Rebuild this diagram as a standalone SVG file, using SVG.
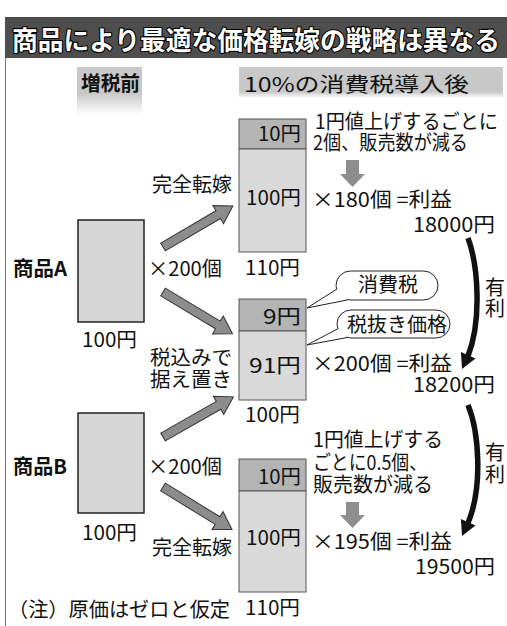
<svg xmlns="http://www.w3.org/2000/svg" xmlns:xlink="http://www.w3.org/1999/xlink" width="507" height="626" viewBox="0 0 507 626">
<style>
text{font-family:"Noto Sans CJK JP","Liberation Sans",sans-serif;font-size:20px;font-weight:400;fill:#111}
.b{font-weight:700}
.e{text-anchor:end}
.m{text-anchor:middle}
.title{font-size:26px;font-weight:700;fill:#fff;stroke:#000;stroke-width:2.2;paint-order:stroke;stroke-linejoin:round}
.pre{fill:#d6d6d6;stroke:#222;stroke-width:1.5}
.tax{fill:#b4b4b4;stroke:#555;stroke-width:1}
.base{fill:#d9d9d9;stroke:#555;stroke-width:1}
.big{fill:#8c8c8c;stroke:#333;stroke-width:1}
.down{fill:#8e8e8e}
.curve{fill:none;stroke:#111;stroke-width:5.5}
.head{fill:#111}
.pill{fill:#fff;stroke:#222;stroke-width:1}
.tl{stroke:#222;stroke-width:1;fill:none}
</style>
<defs>
<linearGradient id="hg1" x1="0" y1="0" x2="0" y2="1">
<stop offset="0" stop-color="#c8c8c8"/>
<stop offset="0.55" stop-color="#c8c8c8"/>
<stop offset="1" stop-color="#c8c8c8" stop-opacity="0"/>
</linearGradient>
<linearGradient id="hg2" x1="0" y1="0" x2="0" y2="1">
<stop offset="0" stop-color="#c8c8c8"/>
<stop offset="0.8" stop-color="#c8c8c8"/>
<stop offset="1" stop-color="#c8c8c8" stop-opacity="0"/>
</linearGradient>
<path id="bigArrow" d="M0,-4.5 L64,-4.5 L64,-10.5 L81,0 L64,10.5 L64,4.5 L0,4.5 Z"/>
</defs>
<rect width="507" height="626" fill="#fff"/>
<g id="title">
<rect x="5" y="17" width="502" height="41" fill="#4e4e4e"/>
<text class="title" x="12" y="50" textLength="488" lengthAdjust="spacingAndGlyphs">商品により最適な価格転嫁の戦略は異なる</text>
</g>
<line x1="5.5" y1="58" x2="5.5" y2="626" stroke="#777" stroke-width="1"/>
<g id="header-before">
<rect x="77" y="67" width="65" height="48" fill="url(#hg1)"/>
<text class="b" x="81" y="91" textLength="59" lengthAdjust="spacingAndGlyphs">増税前</text>
</g>
<g id="header-after">
<rect x="239" y="67" width="264" height="31" fill="url(#hg2)"/>
<text x="244" y="92" textLength="225" lengthAdjust="spacingAndGlyphs">10%の消費税導入後</text>
</g>
<g id="productA">
<text class="b" x="13" y="276" textLength="54" lengthAdjust="spacingAndGlyphs">商品A</text>
<rect class="pre" x="78" y="220" width="66" height="102"/>
<text x="82" y="347" textLength="55" lengthAdjust="spacingAndGlyphs">100円</text>
<text x="148" y="276" textLength="74" lengthAdjust="spacingAndGlyphs">×200個</text>
</g>
<g id="productB">
<text class="b" x="13" y="474" textLength="54" lengthAdjust="spacingAndGlyphs">商品B</text>
<rect class="pre" x="78" y="413" width="66" height="100"/>
<text x="82" y="540" textLength="55" lengthAdjust="spacingAndGlyphs">100円</text>
<text x="148" y="474" textLength="74" lengthAdjust="spacingAndGlyphs">×200個</text>
</g>
<g id="A-full">
<rect class="tax" x="239" y="119" width="67" height="30"/>
<rect class="base" x="239" y="149" width="67" height="103"/>
<text class="e" x="301" y="141" textLength="43" lengthAdjust="spacingAndGlyphs">10円</text>
<text class="e" x="301" y="205" textLength="55" lengthAdjust="spacingAndGlyphs">100円</text>
<text x="245" y="275" textLength="55" lengthAdjust="spacingAndGlyphs">110円</text>
<text x="315" y="129" textLength="183" lengthAdjust="spacingAndGlyphs">1円値上げするごとに</text>
<text x="313" y="150" textLength="155" lengthAdjust="spacingAndGlyphs">2個、販売数が減る</text>
<text x="312" y="207" textLength="140" lengthAdjust="spacingAndGlyphs">×180個 =利益</text>
<text x="413" y="232" textLength="82" lengthAdjust="spacingAndGlyphs">18000円</text>
</g>
<g id="keep-price">
<rect class="tax" x="239" y="299" width="67" height="32"/>
<rect class="base" x="239" y="331" width="67" height="69"/>
<text class="e" x="301" y="324" textLength="38" lengthAdjust="spacingAndGlyphs">9円</text>
<text class="e" x="301" y="373" textLength="52" lengthAdjust="spacingAndGlyphs">91円</text>
<text x="245" y="422" textLength="55" lengthAdjust="spacingAndGlyphs">100円</text>
<text x="312" y="371" textLength="140" lengthAdjust="spacingAndGlyphs">×200個 =利益</text>
<text x="413" y="392" textLength="82" lengthAdjust="spacingAndGlyphs">18200円</text>
</g>
<g id="B-full">
<rect class="tax" x="239" y="459" width="67" height="32"/>
<rect class="base" x="239" y="491" width="67" height="101"/>
<text class="e" x="301" y="484" textLength="43" lengthAdjust="spacingAndGlyphs">10円</text>
<text class="e" x="301" y="545" textLength="55" lengthAdjust="spacingAndGlyphs">100円</text>
<text x="245" y="615" textLength="55" lengthAdjust="spacingAndGlyphs">110円</text>
<text x="313" y="447" textLength="130" lengthAdjust="spacingAndGlyphs">1円値上げする</text>
<text x="313" y="470" textLength="114" lengthAdjust="spacingAndGlyphs">ごとに0.5個、</text>
<text x="313" y="492" textLength="120" lengthAdjust="spacingAndGlyphs">販売数が減る</text>
<text x="312" y="549" textLength="140" lengthAdjust="spacingAndGlyphs">×195個 =利益</text>
<text x="415" y="574" textLength="80" lengthAdjust="spacingAndGlyphs">19500円</text>
</g>
<g id="callout-tax">
<rect class="pill" x="336" y="271" width="102" height="29" rx="14.5"/>
<polygon points="307,308 336.5,289.3 348,299.8" fill="#fff"/>
<polyline class="tl" points="336.5,289.3 307,308 348,299.8"/>
<text class="m" x="388" y="292" textLength="60" lengthAdjust="spacingAndGlyphs">消費税</text>
</g>
<g id="callout-net">
<rect class="pill" x="337" y="310" width="113" height="28" rx="14"/>
<polygon points="307,345 337.8,328.8 347.4,337.5" fill="#fff"/>
<polyline class="tl" points="337.8,328.8 307,345 347.4,337.5"/>
<text class="m" x="397" y="332" textLength="100" lengthAdjust="spacingAndGlyphs">税抜き価格</text>
</g>
<g id="labels">
<text x="152" y="192" textLength="80" lengthAdjust="spacingAndGlyphs">完全転嫁</text>
<text x="150" y="365" textLength="82" lengthAdjust="spacingAndGlyphs">税込みで</text>
<text x="150" y="387" textLength="82" lengthAdjust="spacingAndGlyphs">据え置き</text>
<text x="152" y="555" textLength="80" lengthAdjust="spacingAndGlyphs">完全転嫁</text>
<text class="m" x="495" y="295">有</text>
<text class="m" x="495" y="316">利</text>
<text class="m" x="495" y="460">有</text>
<text class="m" x="495" y="482">利</text>
<text x="8" y="617" textLength="222" lengthAdjust="spacingAndGlyphs">（注）原価はゼロと仮定</text>
</g>
<g id="connectors">
<use xlink:href="#bigArrow" class="big" transform="translate(163,247) rotate(-30.36)"/>
<use xlink:href="#bigArrow" class="big" transform="translate(163,292) rotate(30.96)"/>
<use xlink:href="#bigArrow" class="big" transform="translate(163,437) rotate(-29.7)"/>
<use xlink:href="#bigArrow" class="big" transform="translate(163,487) rotate(31.6)"/>
<path class="down" d="M346,160 H359 V174 H365 L352.5,187 L340,174 H346 Z"/>
<path class="down" d="M346,502 H359 V515 H365 L352.5,528 L340,515 H346 Z"/>
<path class="curve" d="M468,238 C478,265 482,320 468,356"/>
<polygon class="head" points="462,369 475.5,358.6 460.9,352"/>
<path class="curve" d="M468,405 C479,432 483,487 468,523"/>
<polygon class="head" points="462,536 475.5,525.6 460.9,519"/>
</g>
</svg>
